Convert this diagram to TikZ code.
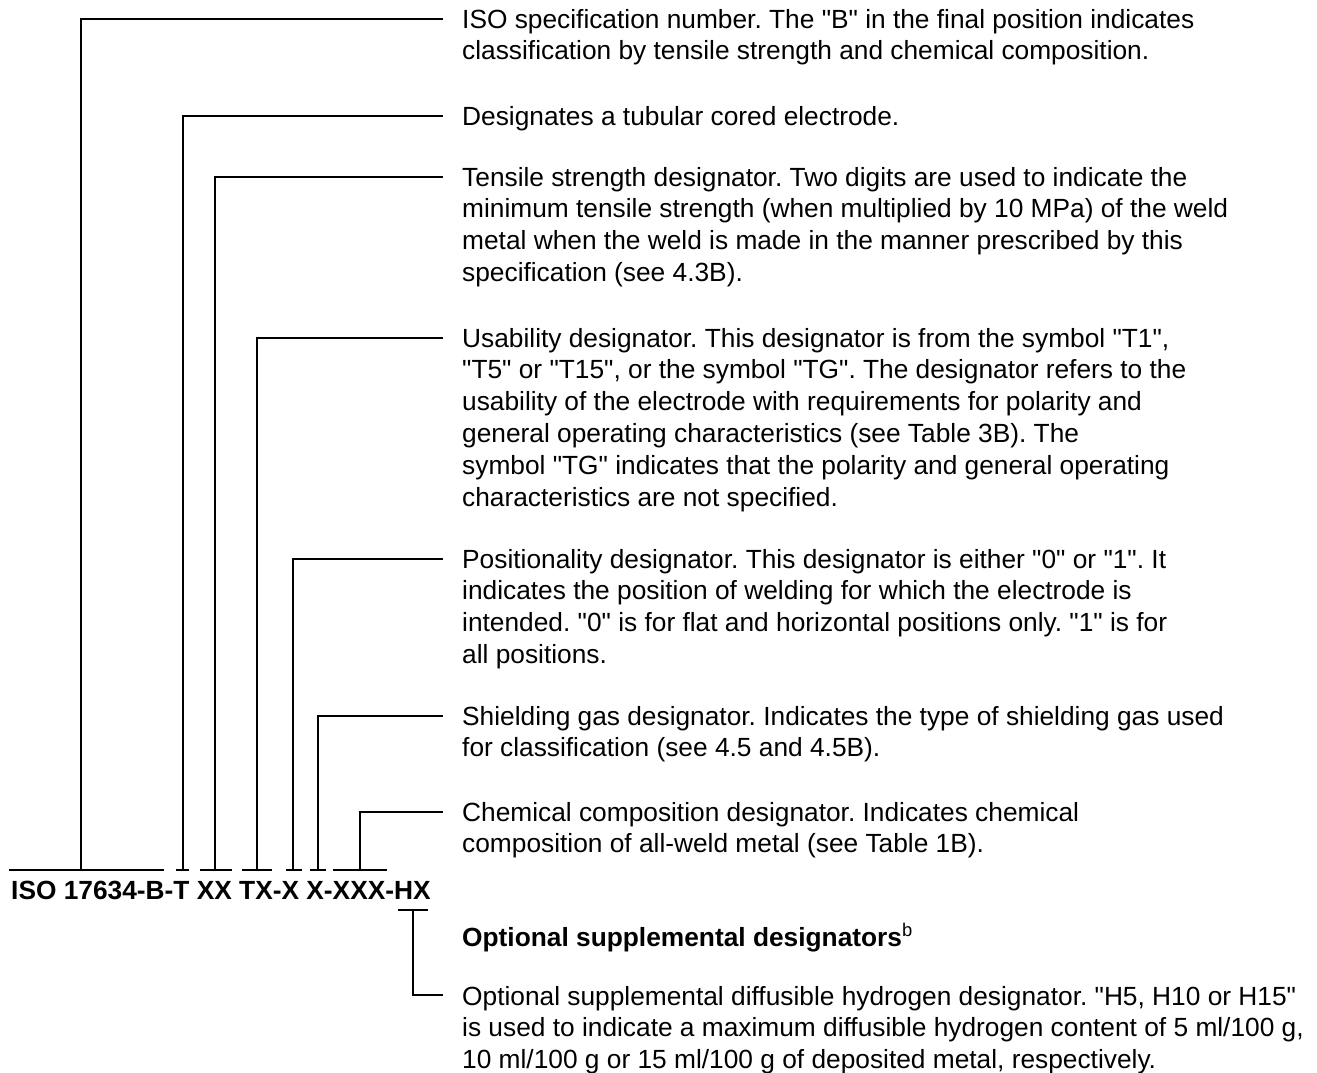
\documentclass[tikz,border=0pt]{standalone}
\usepackage{fontspec}
\setmainfont{Liberation Sans}[Ligatures=TeXOff]
\frenchspacing
\newcommand{\descbox}[1]{\parbox[t]{900pt}{\fontsize{26.3pt}{31.8pt}\selectfont\raggedright #1}}
\begin{document}
\begin{tikzpicture}[x=1pt,y=-1pt,
  conn/.style={line width=1.3pt},
  desc/.style={anchor=base west,inner sep=0pt,font=\fontsize{26.3pt}{31.8pt}\selectfont},
  code/.style={anchor=base west,inner sep=0pt,font=\fontsize{26.3pt}{30pt}\selectfont\bfseries}]
\useasboundingbox (0,0) rectangle (1317,1072);
% code string
\node[code] (code) at (11,899) {ISO 17634-B-T XX TX-X X-XXX-HX};
% descriptions
\node[desc] (d1) at (462,28) {\descbox{ISO specification number. The "B" in the final position indicates\\classification by tensile strength and chemical composition.}};
\node[desc] (d2) at (462,125) {\descbox{Designates a tubular cored electrode.}};
\node[desc] (d3) at (462,186) {\descbox{Tensile strength designator. Two digits are used to indicate the\\minimum tensile strength (when multiplied by 10 MPa) of the weld\\metal when the weld is made in the manner prescribed by this\\specification (see 4.3B).}};
\node[desc] (d4) at (462,347) {\descbox{Usability designator. This designator is from the symbol "T1",\\"T5" or "T15", or the symbol "TG". The designator refers to the\\usability of the electrode with requirements for polarity and\\general operating characteristics (see Table 3B). The\\symbol "TG" indicates that the polarity and general operating\\characteristics are not specified.}};
\node[desc] (d5) at (462,568) {\descbox{Positionality designator. This designator is either "0" or "1". It\\indicates the position of welding for which the electrode is\\intended. "0" is for flat and horizontal positions only. "1" is for\\all positions.}};
\node[desc] (d6) at (462,725) {\descbox{Shielding gas designator. Indicates the type of shielding gas used\\for classification (see 4.5 and 4.5B).}};
\node[desc] (d7) at (462,821) {\descbox{Chemical composition designator. Indicates chemical\\composition of all-weld metal (see Table 1B).}};
\node[desc,font=\fontsize{26.3pt}{30pt}\selectfont\bfseries] (head) at (462,946) {Optional supplemental designators\textsuperscript{\normalfont b}};
\node[desc] (d8) at (462,1005) {\descbox{Optional supplemental diffusible hydrogen designator. "H5, H10 or H15"\\is used to indicate a maximum diffusible hydrogen content of 5 ml/100 g,\\10 ml/100 g or 15 ml/100 g of deposited metal, respectively.}};
% tick points on the underline
\coordinate (t1) at (81,870);
\coordinate (t2) at (183,870);
\coordinate (t3) at (215,870);
\coordinate (t4) at (257,870);
\coordinate (t5) at (293,870);
\coordinate (t6) at (318,870);
\coordinate (t7) at (360,870);
\coordinate (t8) at (413,910);
% connector ends
\coordinate (e1) at (443,19);
\coordinate (e2) at (443,116);
\coordinate (e3) at (443,177);
\coordinate (e4) at (443,338);
\coordinate (e5) at (443,559);
\coordinate (e6) at (443,716);
\coordinate (e7) at (443,812);
\coordinate (e8) at (443,995);
% underline segments
\draw[conn] (9,870) -- (164,870);
\draw[conn] (176,870) -- (189,870);
\draw[conn] (200,870) -- (232,870);
\draw[conn] (242,870) -- (272,870);
\draw[conn] (286,870) -- (302,870);
\draw[conn] (310,870) -- (326,870);
\draw[conn] (333,870) -- (387,870);
\draw[conn] (398,910) -- (428,910);
% connectors
\draw[conn] (t1) |- (e1);
\draw[conn] (t2) |- (e2);
\draw[conn] (t3) |- (e3);
\draw[conn] (t4) |- (e4);
\draw[conn] (t5) |- (e5);
\draw[conn] (t6) |- (e6);
\draw[conn] (t7) |- (e7);
\draw[conn] (t8) |- (e8);
\end{tikzpicture}
\end{document}
